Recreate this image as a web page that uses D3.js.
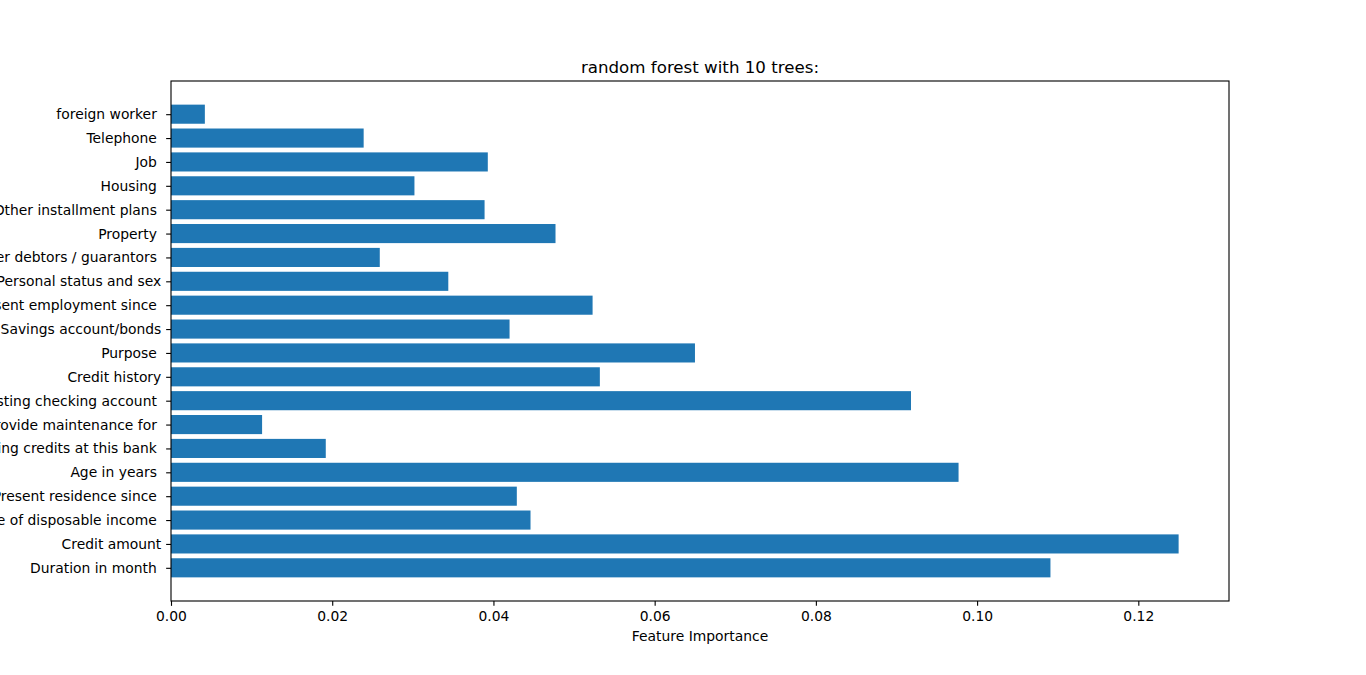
<!DOCTYPE html>
<html>
<head>
<meta charset="utf-8">
<script src="https://cdn.jsdelivr.net/npm/d3@7"></script>
<style>
html, body { margin: 0; padding: 0; background: #fff; }
svg { display: block; }
text { font-family: "DejaVu Sans", sans-serif; fill: #000; }
.ylab text { white-space: pre; }
</style>
</head>
<body>
<svg id="chart" width="1366" height="675"></svg>
<script>
// Categories, bottom to top (matplotlib barh order)
const features = [
  "Duration in month ",
  "Credit amount",
  "Installment rate in percentage of disposable income ",
  "Present residence since ",
  "Age in years ",
  "Number of existing credits at this bank ",
  "Number of people being liable to provide maintenance for ",
  "Status of existing checking account ",
  "Credit history",
  "Purpose ",
  "Savings account/bonds",
  "Present employment since ",
  "Personal status and sex",
  "Other debtors / guarantors ",
  "Property ",
  "Other installment plans ",
  "Housing ",
  "Job ",
  "Telephone ",
  "foreign worker "
];
const importances = [
  0.1091, 0.1250, 0.0446, 0.0429, 0.0977,
  0.0192, 0.0113, 0.0918, 0.0532, 0.0650,
  0.0420, 0.0523, 0.0344, 0.0259, 0.0477,
  0.0389, 0.0302, 0.0393, 0.0239, 0.0042
];
const xTicks = [0.00, 0.02, 0.04, 0.06, 0.08, 0.10, 0.12];
const titleText = "random forest with 10 trees:";
const xLabelText = "Feature Importance";

(function () {
const svg = d3.select("#chart");
const mLeft = 171, mRight = 1229, mTop = 81, mBottom = 601;
const tickLen = 4.86, tickPad = 4.86;
const fs = "13.89px";

const xMax = d3.max(importances) * 1.05;
const x = d3.scaleLinear().domain([0, xMax]).range([mLeft, mRight]);
const n = features.length;
const yLo = -0.4, yHi = (n - 1) + 0.4, yM = (yHi - yLo) * 0.05;
const y = d3.scaleLinear().domain([yLo - yM, yHi + yM]).range([mBottom, mTop]);

// bars
svg.append("g").selectAll("rect").data(importances).join("rect")
  .attr("x", x(0))
  .attr("y", (d, i) => y(i + 0.4))
  .attr("width", d => x(d) - x(0))
  .attr("height", (d, i) => y(i - 0.4) - y(i + 0.4))
  .attr("fill", "#1f77b4");

// x axis
const xAxis = svg.append("g")
  .attr("transform", `translate(0,${mBottom})`)
  .call(d3.axisBottom(x).tickValues(xTicks).tickFormat(d3.format(".2f"))
    .tickSize(tickLen).tickPadding(tickPad));
xAxis.select(".domain").remove();
xAxis.selectAll("line").attr("stroke", "#000").attr("stroke-width", 1.11);
xAxis.selectAll("text").attr("font-size", fs).attr("font-family", "DejaVu Sans").attr("fill", "#000");

// y axis
const yAxis = svg.append("g").attr("class", "ylab")
  .attr("transform", `translate(${mLeft},0)`)
  .call(d3.axisLeft(y).tickValues(d3.range(n)).tickFormat(i => features[i])
    .tickSize(tickLen).tickPadding(tickPad));
yAxis.select(".domain").remove();
yAxis.selectAll("line").attr("stroke", "#000").attr("stroke-width", 1.11);
yAxis.selectAll("text").attr("font-size", fs).attr("font-family", "DejaVu Sans").attr("fill", "#000")
  .style("white-space", "pre");

// frame
svg.append("rect")
  .attr("x", mLeft).attr("y", mTop)
  .attr("width", mRight - mLeft).attr("height", mBottom - mTop)
  .attr("fill", "none").attr("stroke", "#000").attr("stroke-width", 1.11);

// title
svg.append("text")
  .attr("x", (mLeft + mRight) / 2).attr("y", mTop - 8.3)
  .attr("text-anchor", "middle")
  .attr("font-size", "16.67px")
  .text(titleText);

// x label
svg.append("text")
  .attr("x", (mLeft + mRight) / 2).attr("y", 641)
  .attr("text-anchor", "middle")
  .attr("font-size", fs)
  .text(xLabelText);
})();
</script>
</body>
</html>
